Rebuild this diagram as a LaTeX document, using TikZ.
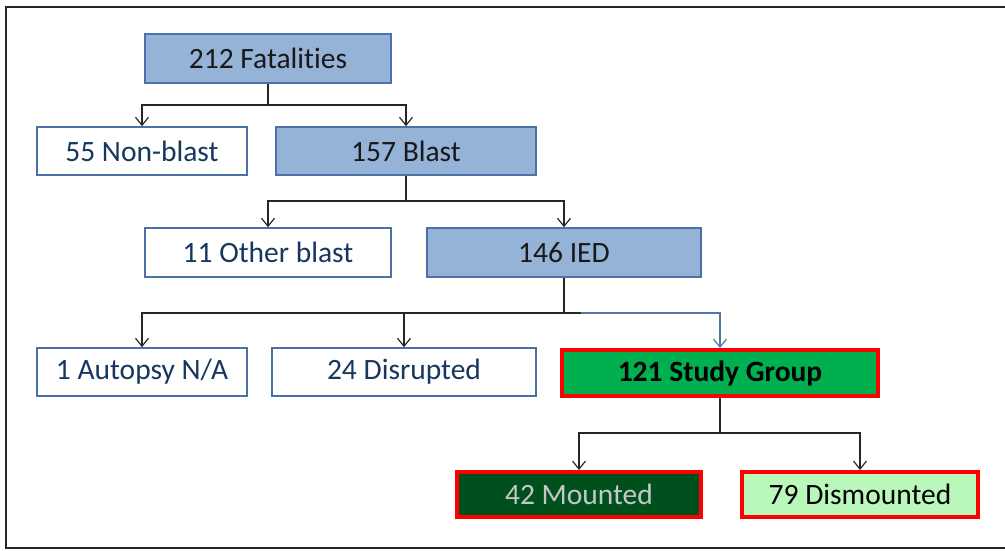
\documentclass[tikz,border=0pt]{standalone}
\usepackage{fontspec}
\setmainfont{Carlito}[Ligatures=NoCommon]
\usetikzlibrary{arrows.meta}
\definecolor{boxblue}{HTML}{95B3D7}
\definecolor{edgeblue}{HTML}{4A72A8}
\definecolor{navytext}{HTML}{17375E}
\definecolor{studygreen}{HTML}{00B050}
\definecolor{darkgreen}{HTML}{00501E}
\definecolor{lightgreen}{HTML}{BAF7BA}
\definecolor{mtext}{HTML}{C4C8C4}
\definecolor{connblue}{HTML}{4F78A8}
\begin{document}
\begin{tikzpicture}[x=1pt,y=-1pt,
  every node/.style={font=\fontsize{29.5}{34}\selectfont, inner sep=0pt, rectangle},
  bluebox/.style={draw=edgeblue, line width=1.6pt, fill=boxblue, text=black!90},
  whitebox/.style={draw=edgeblue, line width=1.6pt, fill=white, text=navytext},
  redbox/.style={draw=red, line width=4pt},
  conn/.style={line width=1.3pt, draw=black!85},
  arr/.style={conn, -{Straight Barb[length=8pt,width=13pt,line width=1.2pt]}}
]
\useasboundingbox (0,0) rectangle (1005,550);
\draw[line width=2pt, black!85] (1005,7) -- (6,7) -- (6,548) -- (1005,548);

\node[bluebox, minimum width=246pt, minimum height=49pt] (fat) at (268,58.5) {212 Fatalities};
\node[whitebox, minimum width=210pt, minimum height=48pt] (nonblast) at (142,151) {55 Non-blast};
\node[bluebox, minimum width=260pt, minimum height=48pt] (blast) at (406,151) {157 Blast};
\node[whitebox, minimum width=246pt, minimum height=49pt] (other) at (268,252.5) {11 Other blast};
\node[bluebox, minimum width=274pt, minimum height=49pt] (ied) at (564,252.5) {146 IED};
\node[whitebox, minimum width=210pt, minimum height=48pt] (autopsy) at (142,372) {1 Autopsy N/A};
\node[whitebox, minimum width=264pt, minimum height=48pt] (disrupted) at (404,372) {24 Disrupted};
\node[redbox, fill=studygreen, text=black, minimum width=316pt, minimum height=46pt, font=\fontsize{29.5}{34}\selectfont\bfseries] (study) at (720,373) {121 Study Group};
\node[redbox, fill=darkgreen, text=mtext, minimum width=244pt, minimum height=45pt] (mounted) at (579,494.5) {42 Mounted};
\node[redbox, fill=lightgreen, text=black, minimum width=236pt, minimum height=45pt] (dismounted) at (860,494.5) {79 Dismounted};

\coordinate (j1) at (268,105);
\coordinate (j2) at (406,201);
\coordinate (j3) at (564,313);
\coordinate (j3b) at (581,313);
\coordinate (j4) at (720,433);

\draw[conn] (fat.south -| j1) -- (j1);
\draw[arr] (j1) -| (nonblast);
\draw[arr] (j1) -| (blast);

\draw[conn] (blast.south -| j2) -- (j2);
\draw[arr] (j2) -| (other);
\draw[arr] (j2) -| (ied);

\draw[conn] (ied.south -| j3) -- (j3);
\draw[arr] (j3) -| (autopsy);
\draw[arr] (j3) -| (disrupted);
\draw[conn] (j3) -- (j3b);
\draw[arr, draw=connblue] (j3b) -| (study.north);

\draw[conn] (study.south) -- (j4);
\draw[arr] (j4) -| (mounted);
\draw[arr] (j4) -| (dismounted);
\end{tikzpicture}
\end{document}
